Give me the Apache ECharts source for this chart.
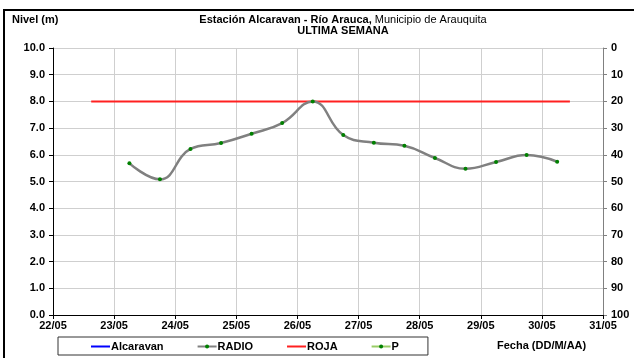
<!DOCTYPE html>
<html>
<head>
<meta charset="utf-8">
<script src="https://cdn.jsdelivr.net/npm/echarts@6/dist/echarts.min.js"></script>
<style>
  html, body { margin: 0; padding: 0; background: #fff; }
  #chart { width: 634px; height: 358px; }
</style>
</head>
<body>
<div id="chart"></div>
<script>
// dias del eje x (mayo)
const dias = [22, 23, 24, 25, 26, 27, 28, 29, 30, 31]
// nivel RADIO cada 12 horas
const fechasRadio = ['23/05 06', '23/05 18', '24/05 06', '24/05 18', '25/05 06', '25/05 18', '26/05 06',
  '26/05 18', '27/05 06', '27/05 18', '28/05 06', '28/05 18', '29/05 06', '29/05 18', '30/05 06']
const nivelRadio = [5.68, 5.08, 6.22, 6.44, 6.79, 7.19, 8.0, 6.74, 6.45, 6.34, 5.88, 5.48, 5.73, 5.99, 5.74]
// umbral rojo
const fechasRoja = ['22/05 15', '30/05 11']
const nivelRoja = [8.0, 8.0]
const leyenda = ['Alcaravan', 'RADIO', 'ROJA', 'P']

const font = "'Liberation Sans', Arial, sans-serif"

// '23/05 06' -> 23.25
function aDia(s) {
  let d = parseInt(s.slice(0, 2))
  let h = parseInt(s.slice(6, 8))
  return d + h / 24
}

let myChart = echarts.init(document.getElementById('chart'))

let option = {
  animation: false,
  textStyle: { fontFamily: font },
  graphic: [
    {
      type: 'rect',
      shape: { x: 4, y: 10, width: 660, height: 400 },
      style: { fill: 'none', stroke: '#000', lineWidth: 2 },
      silent: true
    },
    {
      type: 'text', x: 343, y: 20,
      style: {
        text: '{b|Estación Alcaravan - Río Arauca,}{n| Municipio de Arauquita}',
        align: 'center', verticalAlign: 'middle',
        rich: {
          b: { fontFamily: font, fontSize: 11, fontWeight: 'bold', fill: '#000' },
          n: { fontFamily: font, fontSize: 11, fontWeight: 'normal', fill: '#000' }
        }
      }
    },
    {
      type: 'text', x: 343, y: 31,
      style: {
        text: 'ULTIMA SEMANA', align: 'center', verticalAlign: 'middle',
        font: 'bold 11px ' + font, fill: '#000'
      }
    },
    {
      type: 'text', left: 12, top: 14,
      style: { text: 'Nivel (m)', font: 'bold 11px ' + font, fill: '#000' }
    },
    {
      type: 'text', left: 497, top: 340,
      style: { text: 'Fecha (DD/M/AA)', font: 'bold 11px ' + font, fill: '#000' }
    }
  ],
  legend: {
    data: [
      { name: leyenda[0], itemStyle: { opacity: 0 } },
      leyenda[1],
      { name: leyenda[2], itemStyle: { opacity: 0 } },
      leyenda[3]
    ],
    left: 58,
    top: 337,
    padding: [4, 29, 3, 32],
    itemGap: 33,
    itemWidth: 19,
    itemHeight: 5,
    borderColor: '#333',
    borderWidth: 1,
    borderRadius: 0,
    backgroundColor: '#fff',
    textStyle: { fontFamily: font, fontSize: 11, fontWeight: 'bold', color: '#000', padding: [0, 0, 0, -4] }
  },
  grid: { left: 53, right: 31, top: 48, bottom: 43 },
  xAxis: {
    type: 'value',
    min: dias[0],
    max: dias[dias.length - 1],
    interval: 1,
    axisLine: { show: true, lineStyle: { color: '#000', width: 1 } },
    axisTick: { show: true, length: 4, lineStyle: { color: '#000' } },
    axisLabel: {
      margin: 5,
      fontFamily: font, fontSize: 11, fontWeight: 'bold', color: '#000',
      formatter: v => String(v).padStart(2, '0') + '/05'
    },
    splitLine: { show: true, lineStyle: { color: '#cfcfcf', width: 1 } }
  },
  yAxis: [
    {
      type: 'value',
      min: 0, max: 10, interval: 1,
      axisLine: { show: true, lineStyle: { color: '#000', width: 1 } },
      axisTick: { show: true, length: 4, lineStyle: { color: '#000' } },
      axisLabel: {
        margin: 8,
        fontFamily: font, fontSize: 11, fontWeight: 'bold', color: '#000',
        formatter: v => v.toFixed(1)
      },
      splitLine: { show: true, lineStyle: { color: '#cfcfcf', width: 1 } }
    },
    {
      type: 'value',
      min: 0, max: 100, interval: 10,
      inverse: true,
      position: 'right',
      axisLine: { show: true, lineStyle: { color: '#808080', width: 1 } },
      axisTick: { show: true, length: 4, lineStyle: { color: '#808080' } },
      axisLabel: { margin: 8, fontFamily: font, fontSize: 11, fontWeight: 'bold', color: '#000' },
      splitLine: { show: false }
    }
  ],
  series: [
    {
      name: 'Alcaravan',
      type: 'line',
      data: [],
      color: '#0000ff',
      symbol: 'none',
      lineStyle: { color: '#0000ff', width: 2.5 }
    },
    {
      name: 'RADIO',
      type: 'line',
      smooth: 0.45,
      data: fechasRadio.map((f, i) => [aDia(f), nivelRadio[i]]),
      symbol: 'circle',
      symbolSize: 4,
      itemStyle: { color: '#008000' },
      lineStyle: { color: '#808080', width: 2.5 },
      z: 3
    },
    {
      name: 'ROJA',
      type: 'line',
      data: fechasRoja.map((f, i) => [aDia(f), nivelRoja[i]]),
      color: '#ff2020',
      symbol: 'none',
      lineStyle: { color: '#ff2020', width: 2 },
      z: 2
    },
    {
      name: 'P',
      type: 'line',
      yAxisIndex: 1,
      data: [],
      symbol: 'circle',
      symbolSize: 4,
      itemStyle: { color: '#008000' },
      lineStyle: { color: '#99cc66', width: 2.5 }
    }
  ]
}
myChart.setOption(option)
</script>
</body>
</html>
